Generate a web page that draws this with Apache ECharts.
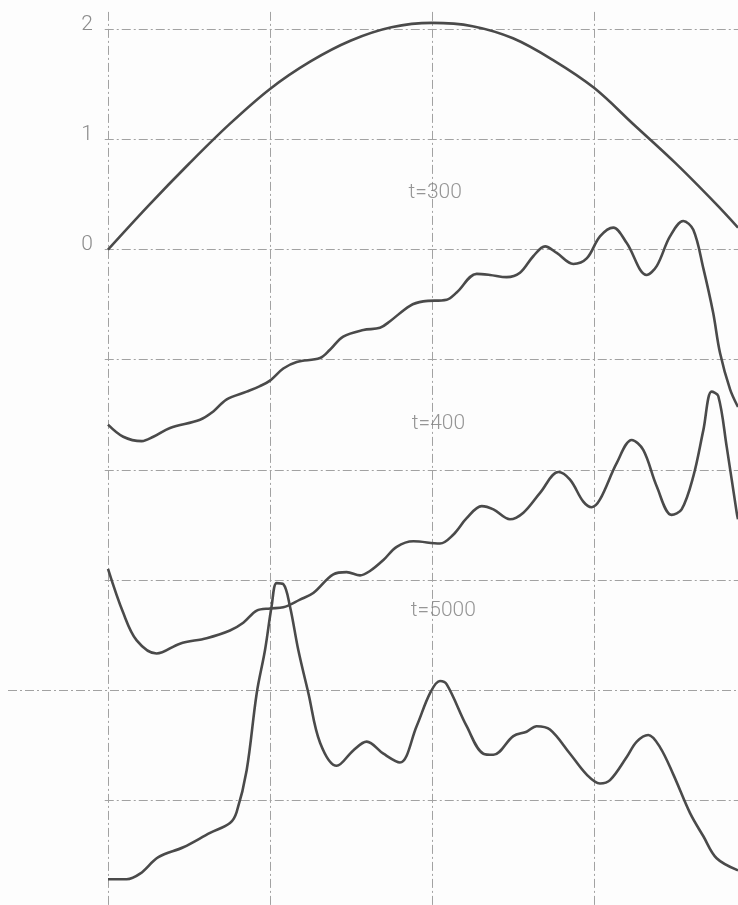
<!DOCTYPE html>
<html>
<head>
<meta charset="utf-8">
<title>Profiles</title>
<script src="https://cdn.jsdelivr.net/npm/echarts@6/dist/echarts.min.js"></script>
<style>
  html, body { margin: 0; padding: 0; background: #fdfdfd; overflow: hidden; }
  #chart { width: 738px; height: 905px; }
</style>
</head>
<body>
<div id="chart"></div>
<script>
// Initial profile (top arch)
const profileStart = [
  [0, 0], [0.25, 0.40], [0.5, 0.78], [0.75, 1.14], [1, 1.46], [1.25, 1.71],
  [1.5, 1.90], [1.75, 2.02], [2, 2.06], [2.25, 2.03], [2.5, 1.92], [2.75, 1.72],
  [3, 1.47], [3.25, 1.13], [3.5, 0.79], [3.75, 0.42], [3.889, 0.20]
];

// Profile at t=300
const profile300 = [
  [0, -1.59], [0.094, -1.70], [0.208, -1.74], [0.280, -1.70], [0.383, -1.62],
  [0.568, -1.545], [0.650, -1.47], [0.733, -1.36], [0.856, -1.29], [0.938, -1.24],
  [1.0, -1.19], [1.082, -1.08], [1.165, -1.02], [1.309, -0.985], [1.370, -0.91],
  [1.452, -0.79], [1.576, -0.73], [1.679, -0.71], [1.741, -0.65], [1.864, -0.51],
  [1.946, -0.47], [2.091, -0.455], [2.152, -0.39], [2.276, -0.22], [2.358, -0.23],
  [2.461, -0.25], [2.543, -0.21], [2.625, -0.06], [2.698, 0.03], [2.770, -0.03],
  [2.872, -0.13], [2.955, -0.08], [3.037, 0.12], [3.119, 0.20], [3.202, 0.06],
  [3.325, -0.23], [3.387, -0.15], [3.469, 0.12], [3.551, 0.26], [3.613, 0.18],
  [3.675, -0.17], [3.735, -0.57], [3.778, -0.94], [3.840, -1.27], [3.889, -1.43]
];

// Profile at t=400
const profile400 = [
  [0, -2.90], [0.094, -3.30], [0.177, -3.55], [0.300, -3.67], [0.444, -3.58],
  [0.609, -3.53], [0.753, -3.46], [0.835, -3.39], [0.918, -3.28], [1.0, -3.26],
  [1.082, -3.25], [1.185, -3.18], [1.267, -3.12], [1.391, -2.95], [1.473, -2.93],
  [1.556, -2.96], [1.617, -2.92], [1.700, -2.82], [1.782, -2.70], [1.885, -2.65],
  [2.049, -2.67], [2.131, -2.59], [2.214, -2.44], [2.307, -2.33], [2.379, -2.36],
  [2.481, -2.45], [2.564, -2.39], [2.667, -2.21], [2.780, -2.02], [2.852, -2.09],
  [2.934, -2.29], [2.986, -2.34], [3.037, -2.27], [3.140, -1.94], [3.233, -1.73],
  [3.304, -1.82], [3.387, -2.15], [3.479, -2.41], [3.541, -2.36], [3.613, -2.06],
  [3.675, -1.64], [3.726, -1.29], [3.767, -1.33], [3.819, -1.79], [3.881, -2.39],
  [3.889, -2.45]
];

// Profile at t=5000
const profile5000 = [
  [0, -5.72], [0.115, -5.72], [0.198, -5.67], [0.311, -5.52], [0.465, -5.43],
  [0.630, -5.30], [0.753, -5.21], [0.794, -5.11], [0.856, -4.73], [0.918, -4.03],
  [0.969, -3.64], [1.010, -3.24], [1.041, -3.03], [1.082, -3.04], [1.123, -3.24],
  [1.175, -3.64], [1.237, -4.03], [1.309, -4.48], [1.412, -4.69], [1.514, -4.55],
  [1.597, -4.47], [1.700, -4.58], [1.802, -4.66], [1.905, -4.33], [1.988, -4.03],
  [2.049, -3.92], [2.091, -3.95], [2.214, -4.33], [2.317, -4.58], [2.379, -4.59],
  [2.502, -4.42], [2.584, -4.38], [2.646, -4.33], [2.728, -4.36], [2.852, -4.58],
  [2.955, -4.77], [3.037, -4.85], [3.099, -4.82], [3.202, -4.61], [3.264, -4.47],
  [3.335, -4.41], [3.407, -4.52], [3.490, -4.77], [3.593, -5.12], [3.675, -5.33],
  [3.757, -5.53], [3.889, -5.64]
];

// Curve captions and where they sit
const captionText = ['t=300', 't=400', 't=5000'];
const captionX = [2.02, 2.04, 2.07];
const captionY = [0.52, -1.58, -3.28];

// Grid positions
const gridColumns = [0, 1, 2, 3, 4];
const gridRows = [2, 1, 0, -1, -2, -3, -4, -5];
const yTickLabels = [0, 1, 2];

const X_MIN = -0.6173, X_MAX = 4;
const Y_MIN = -6, Y_MAX = 2.25;
const longRow = -4;   // this row runs out past the left axis

const gridStyle = { color: '#a2a2a2', width: 1, type: [9, 3, 2, 3] };
const curveStyle = { color: '#4a4a4a', width: 2.6 };

const gridLines = [];
gridColumns.forEach(function (c) {
  gridLines.push([{ coord: [c, 2.16] }, { coord: [c, Y_MIN] }]);
});
gridRows.forEach(function (r) {
  gridLines.push([{ coord: [r === longRow ? X_MIN : -0.02, r] }, { coord: [X_MAX, r] }]);
});

function curve(name, data) {
  return {
    name: name,
    type: 'line',
    data: data,
    smooth: 0.35,
    showSymbol: false,
    symbol: 'none',
    silent: true,
    z: 5,
    lineStyle: curveStyle
  };
}

const chart = echarts.init(document.getElementById('chart'), null, { renderer: 'canvas' });
chart.setOption({
  backgroundColor: '#fdfdfd',
  animation: false,
  // the plot runs on past the right and bottom edges of the sheet
  grid: { left: 8, top: 2, width: 748, height: 908, outerBoundsMode: 'none', containLabel: false },
  xAxis: {
    type: 'value', min: X_MIN, max: X_MAX, show: false,
    axisLine: { onZero: false }, splitLine: { show: false }
  },
  yAxis: {
    type: 'value', min: Y_MIN, max: Y_MAX, interval: 1,
    offset: -100,
    axisLine: { show: false }, axisTick: { show: false }, splitLine: { show: false },
    axisLabel: {
      margin: 15,
      color: '#8c8c8c',
      fontFamily: 'Roboto',
      fontWeight: 300,
      fontSize: 21,
      // digits sit just above their grid line
      verticalAlign: 'bottom',
      lineHeight: 10,
      formatter: function (v) { return yTickLabels.indexOf(v) >= 0 ? String(v) : ''; }
    }
  },
  series: [
    {
      type: 'line', data: [], silent: true, z: 1,
      markLine: {
        silent: true, symbol: ['none', 'none'], animation: false,
        label: { show: false }, lineStyle: gridStyle,
        emphasis: { disabled: true },
        data: gridLines
      }
    },
    curve('start', profileStart),
    curve('t300', profile300),
    curve('t400', profile400),
    curve('t5000', profile5000),
    {
      type: 'scatter', symbolSize: 0, silent: true, z: 6,
      data: captionText.map(function (t, i) { return { name: t, value: [captionX[i], captionY[i]] }; }),
      label: {
        show: true, position: 'inside', formatter: '{b}',
        color: '#7c7c7c', fontFamily: 'Roboto', fontWeight: 300, fontSize: 21
      }
    }
  ]
});
</script>
</body>
</html>
